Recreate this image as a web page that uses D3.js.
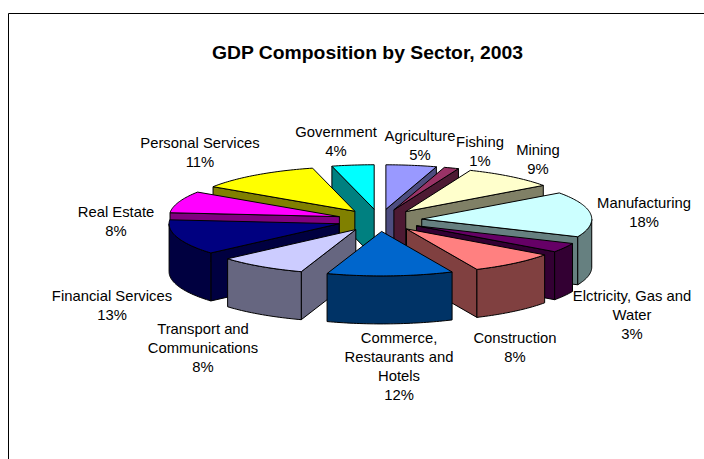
<!DOCTYPE html>
<html><head><meta charset="utf-8">
<script src="https://cdn.jsdelivr.net/npm/d3@7/dist/d3.min.js"></script>
<style>html,body{margin:0;padding:0;background:#fff}svg{display:block}text{font-family:"Liberation Sans",Arial,sans-serif;fill:#000}</style>
</head><body><svg id="c" width="704" height="459"></svg>
<script>
const titleText = "GDP Composition by Sector, 2003";
const sectors = ["Agriculture","Fishing","Mining","Manufacturing","Elctricity, Gas and Water","Construction","Commerce, Restaurants and Hotels","Transport and Communications","Financial Services","Real Estate","Personal Services","Government"];
const shares = [5,1,9,18,3,8,12,8,13,8,11,4];
const sliceValues = [4.8,1.4,8.8,16.5,3.4,8.3,12,8.4,12.8,7.9,11.7,4.0];
const colors = ["#9999ff","#993366","#ffffcc","#ccffff","#660066","#ff8080","#0066cc","#ccccff","#000080","#ff00ff","#ffff00","#00ffff"];
const labelLines = [["Agriculture"],["Fishing"],["Mining"],["Manufacturing"],["Elctricity, Gas and","Water"],["Construction"],["Commerce,","Restaurants and","Hotels"],["Transport and","Communications"],["Financial Services"],["Real Estate"],["Personal Services"],["Government"]];
const labelX = [420,480,538,644,632,515,399,203,112,116,200,336];
const labelY = [141,147,155,208,301,343,343,334,301,217,148,137];

const W=704,H=459,cx=379.5,cy=220.3,rx=170,ry=44.5,depth=48,explode=0.25;
const svg=d3.select("#c");
const frame=d3.path();
frame.moveTo(8.5,H);frame.lineTo(8.5,13.5);frame.lineTo(W,13.5);
svg.append("path").attr("d",frame.toString()).attr("fill","none").attr("stroke","#000");

const pie=d3.pie().sort(null).value(d=>d)(sliceValues);
const pt=(a,r,off)=>[off[0]+r*rx*Math.sin(a),off[1]-r*ry*Math.cos(a)];
const line=d3.line();
const slices=pie.map((p,i)=>{
  const mid=(p.startAngle+p.endAngle)/2;
  return {i,s:p.startAngle,e:p.endAngle,mid,off:pt(mid,explode,[cx,cy])};
}).sort((a,b)=>Math.cos(b.mid)-Math.cos(a.mid));
const arcPts=(s,e,off)=>{
  const n=Math.max(2,Math.ceil((e-s)/0.02));
  return d3.range(n+1).map(k=>pt(s+(e-s)*k/n,1,off));
};
const down=q=>[q[0],q[1]+depth];
const g=svg.append("g").attr("stroke","#000").attr("stroke-width",1).attr("stroke-linejoin","round");
slices.forEach(sl=>{
  const c=colors[sl.i];
  const dark=d3.rgb(c);const wall=d3.rgb(dark.r/2,dark.g/2,dark.b/2).formatHex();
  const ap=sl.off;
  const radial=a=>{const o=pt(a,1,ap);return line([ap,o,down(o),down(ap)])+"Z";};
  if(Math.sin(sl.e)>0.001) g.append("path").attr("d",radial(sl.e)).attr("fill",wall);
  if(Math.sin(sl.s)<-0.001) g.append("path").attr("d",radial(sl.s)).attr("fill",wall);
  const a0=Math.max(sl.s,Math.PI/2),a1=Math.min(sl.e,3*Math.PI/2);
  if(a1>a0){
    const up=arcPts(a0,a1,ap);
    g.append("path").attr("d",line(up.concat(up.slice().reverse().map(down)))+"Z").attr("fill",wall);
  }
  g.append("path").attr("d",line([ap].concat(arcPts(sl.s,sl.e,ap)))+"Z").attr("fill",c);
});

const stretched=(x,y,txt,size,sx,weight)=>svg.append("text")
  .attr("transform",`translate(${x},${y}) scale(${sx},1)`)
  .attr("text-anchor","middle").attr("font-size",size).attr("font-weight",weight).text(txt);
stretched(367.5,59,titleText,18,1.075,"bold");
const lh=19;
pie.forEach((p,i)=>{
  const lines=labelLines[i].concat([shares[i]+"%"]);
  lines.forEach((t,k)=>stretched(labelX[i],labelY[i]+k*lh,t,14,1.06,"normal"));
});
</script></body></html>
